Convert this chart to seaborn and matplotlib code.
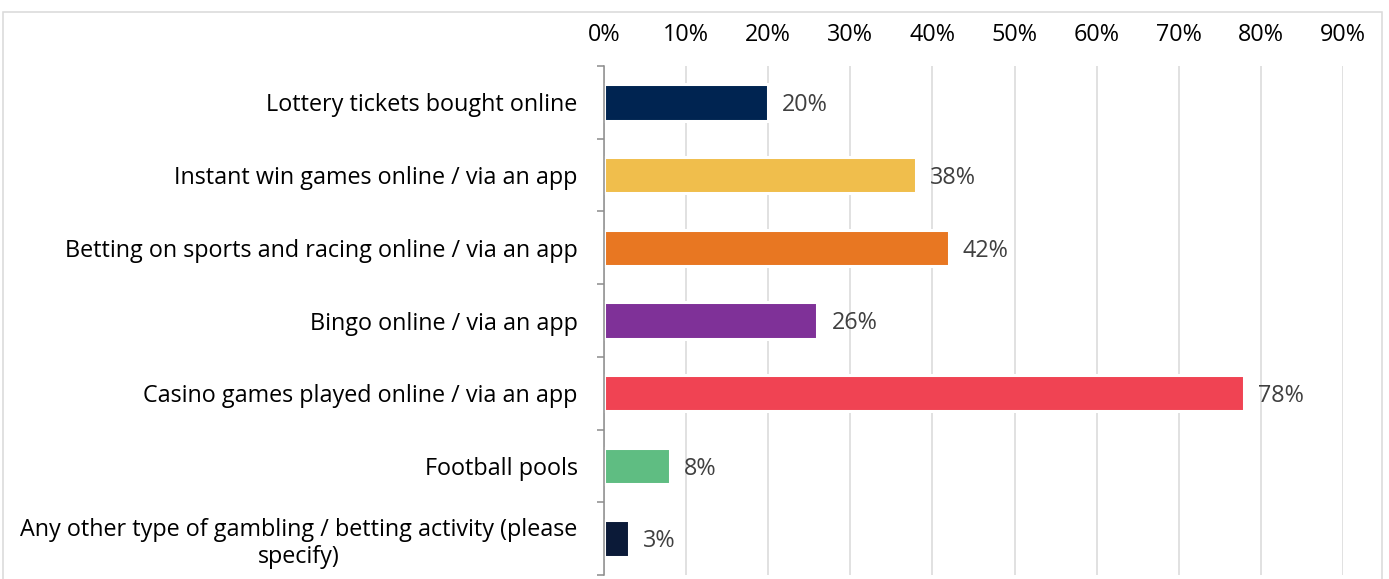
import matplotlib
matplotlib.use("Agg")
import matplotlib.pyplot as plt
from matplotlib.patches import Rectangle
from matplotlib.ticker import FixedLocator, PercentFormatter
import seaborn as sns
import pandas as pd

categories = [
    "Lottery tickets bought online",
    "Instant win games online / via an app",
    "Betting on sports and racing online / via an app",
    "Bingo online / via an app",
    "Casino games played online / via an app",
    "Football pools",
    "Any other type of gambling / betting activity (please\nspecify)",
]
values = [20, 38, 42, 26, 78, 8, 3]
bar_colors = ["#002451", "#F0BE4C", "#E87722", "#7F3198", "#F04353", "#5FBD82", "#0B1A38"]
x_ticks = [0, 10, 20, 30, 40, 50, 60, 70, 80, 90]

FS = 16.8

sns.set_theme(style="white")
plt.rcParams["font.family"] = ["Open Sans", "DejaVu Sans"]

df = pd.DataFrame({"category": categories, "value": values})

fig = plt.figure(figsize=(13.89, 5.79), dpi=100)
ax = fig.add_axes([604 / 1389, 1 - 575 / 579, (1343 - 604) / 1389, (575 - 66) / 579])

sns.barplot(
    data=df, y="category", x="value", hue="category",
    palette=bar_colors, saturation=1, legend=False, orient="h", width=0.5,
    edgecolor="white", linewidth=2.2, ax=ax, zorder=3,
)

# value labels to the right of each bar
for i, v in enumerate(values):
    ax.annotate(f"{v}%", xy=(v, i), xytext=(10, -2), textcoords="offset points",
                ha="left", va="center", fontsize=FS, color="#404040", zorder=4)

ax.set_xlim(0, 90)
ax.set_ylim(len(categories) - 0.5, -0.5)
ax.xaxis.set_major_locator(FixedLocator(x_ticks))
ax.xaxis.set_major_formatter(PercentFormatter(decimals=0))
ax.xaxis.tick_top()
ax.tick_params(axis="x", length=0, pad=14, labelsize=FS, labelcolor="black")
ax.grid(axis="x", color="#D9D9D9", linewidth=1.1, zorder=0)
ax.grid(axis="y", visible=False)
ax.set_axisbelow(True)

# category labels, with separator ticks between the bars
ax.tick_params(axis="y", which="major", length=0, pad=19, labelsize=FS, labelcolor="black")
ax.yaxis.set_minor_locator(FixedLocator([i - 0.5 for i in range(len(categories) + 1)]))
ax.tick_params(axis="y", which="minor", left=True, direction="out", length=5,
               width=1.1, color="#8C8C8C")
for lbl in ax.get_yticklabels():
    lbl.set_multialignment("center")

ax.set_xlabel("")
ax.set_ylabel("")
for side in ["top", "right", "bottom"]:
    ax.spines[side].set_visible(False)
ax.spines["left"].set_color("#8C8C8C")
ax.spines["left"].set_linewidth(1.1)
ax.spines["left"].set_zorder(5)

# light frame around the whole chart area
fig.patches.append(Rectangle((3 / 1389, -0.05), (1382 - 3) / 1389, 1 - 12 / 579 + 0.05,
                             transform=fig.transFigure, fill=False,
                             edgecolor="#D9D9D9", linewidth=1.1))

fig.savefig("out.png", dpi=100, facecolor="white")
